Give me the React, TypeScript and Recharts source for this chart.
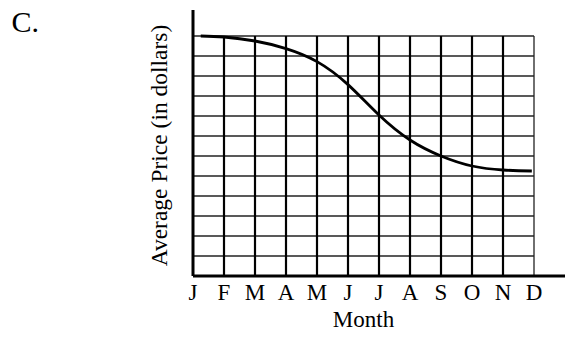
import { LineChart, Line, XAxis, YAxis, ReferenceLine, Customized } from 'recharts'

const months = ['J', 'F', 'M', 'A', 'M', 'J', 'J', 'A', 'S', 'O', 'N', 'D']
const monthTicks = [0, 1, 2, 3, 4, 5, 6, 7, 8, 9, 10, 11]
// curve positions (month index) and read-off heights (grid units)
const monthPos = [0.25, 1, 2, 3, 4, 5, 6, 7, 8, 9, 10, 10.93]
const avgPrice = [12, 11.95, 11.75, 11.37, 10.72, 9.57, 8.05, 6.8, 6.0, 5.5, 5.3, 5.25]
const gridCols = [1, 2, 3, 4, 5, 6, 7, 8, 9, 10]
const gridRows = [1, 2, 3, 4, 5, 6, 7, 8, 9, 10, 11, 12]

const data = monthPos.map((x, i) => ({ x, price: avgPrice[i] }))

const FONT = '"Liberation Serif", "Times New Roman", serif'

function MonthTick({ x, payload }: { x: number; payload: { value: number } }) {
  return (
    <text x={x} y={300} textAnchor="middle" fontSize={23} fontFamily={FONT} fill="#000">
      {months[payload.value]}
    </text>
  )
}

function Labels() {
  return (
    <g fontFamily={FONT} fill="#000">
      <text x={11.5} y={31.5} fontSize={30}>
        C.
      </text>
      <text x={363.5} y={327} fontSize={23} textAnchor="middle">
        Month
      </text>
      <text
        x={167}
        y={145.5}
        fontSize={23.5}
        textAnchor="middle"
        transform="rotate(-90, 167, 145.5)"
      >
        Average Price (in dollars)
      </text>
    </g>
  )
}

export default function App() {
  return (
    <div style={{ position: 'absolute', left: 0, top: 0, width: 568, height: 339, background: '#fff' }}>
      <LineChart width={568} height={339} data={data} margin={{ top: 10, right: 3, left: 133, bottom: 3 }}>
        <XAxis
          dataKey="x"
          type="number"
          domain={[0, 12]}
          ticks={monthTicks}
          interval={0}
          tickLine={false}
          height={60}
          axisLine={{ stroke: '#000', strokeWidth: 3 }}
          tick={(props: any) => <MonthTick {...props} />}
        />
        <YAxis
          type="number"
          domain={[0, 13.3]}
          ticks={[0]}
          tick={false}
          tickLine={false}
          width={60}
          axisLine={{ stroke: '#000', strokeWidth: 3 }}
        />
        {gridRows.map((r) => (
          <ReferenceLine
            key={`h${r}`}
            segment={[{ x: 0, y: r }, { x: 11, y: r }]}
            stroke="#222"
            strokeWidth={1.3}
          />
        ))}
        {gridCols.map((c) => (
          <ReferenceLine
            key={`v${c}`}
            segment={[{ x: c, y: 0 }, { x: c, y: 12 }]}
            stroke="#000"
            strokeWidth={2.2}
          />
        ))}
        <ReferenceLine segment={[{ x: 11, y: 0 }, { x: 11, y: 12 }]} stroke="#222" strokeWidth={1.3} />
        <Line
          type="natural"
          dataKey="price"
          stroke="#000"
          strokeWidth={2.8}
          dot={false}
          isAnimationActive={false}
        />
        <Customized component={Labels} />
      </LineChart>
    </div>
  )
}
